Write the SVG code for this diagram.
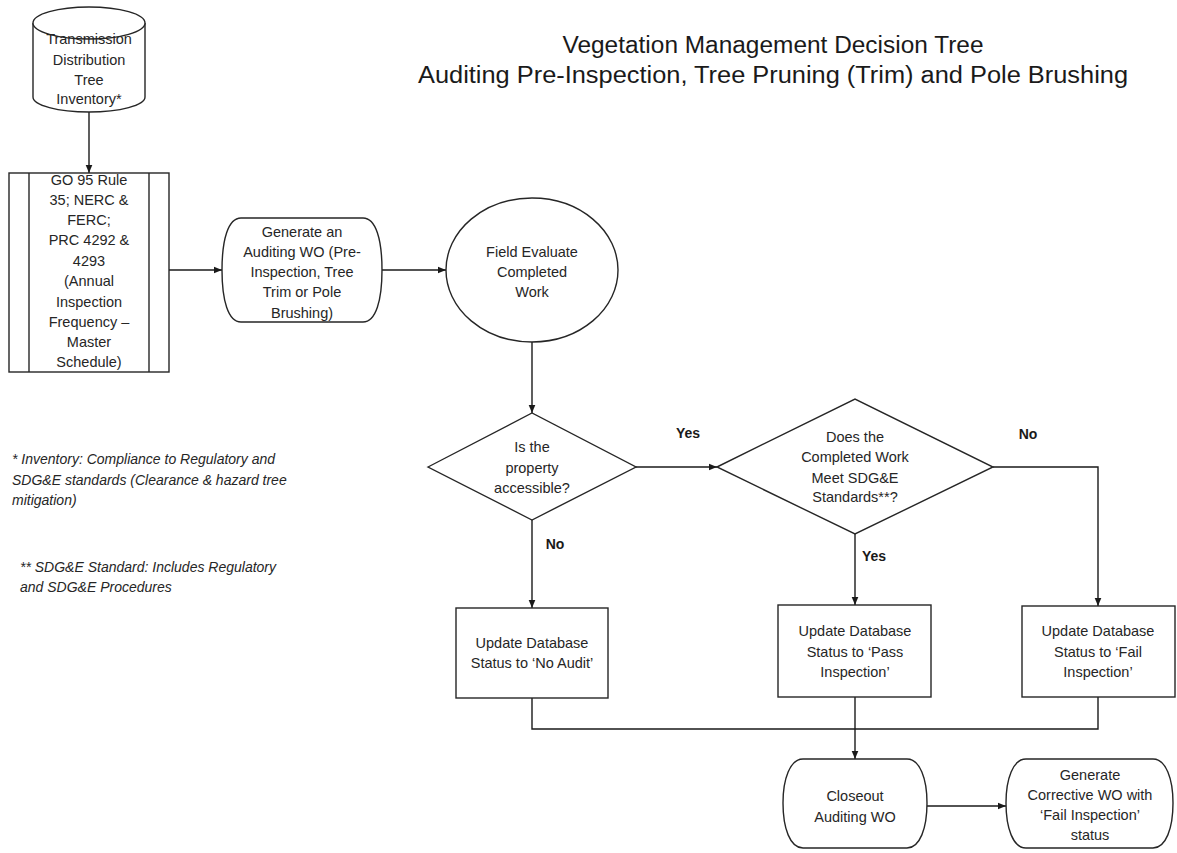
<svg xmlns="http://www.w3.org/2000/svg" width="1177" height="853" viewBox="0 0 1177 853">
<style>
.shape{fill:#fff;stroke:#262626;stroke-width:1.4}
.inner{fill:none;stroke:#262626;stroke-width:1.4}
.t{font-family:"Liberation Sans",Arial,sans-serif;font-size:14.5px;fill:#262626;text-anchor:middle;dominant-baseline:central}
.lbl{font-family:"Liberation Sans",Arial,sans-serif;font-size:14px;font-weight:bold;fill:#1a1a1a;text-anchor:middle;dominant-baseline:central}
.note{font-family:"Liberation Sans",Arial,sans-serif;font-size:14px;font-style:italic;fill:#262626;dominant-baseline:central}
.title{font-family:"Liberation Sans",Arial,sans-serif;font-size:23.5px;fill:#1a1a1a;text-anchor:middle;dominant-baseline:central}
.c{fill:none;stroke:#1a1a1a;stroke-width:1.4}
</style>
<defs>
<marker id="ah" markerWidth="9" markerHeight="8" refX="8.5" refY="4" orient="auto" markerUnits="userSpaceOnUse">
<path d="M0,0.5 L8.5,4 L0,7.5 z" fill="#1a1a1a"/>
</marker>
</defs>
<rect width="1177" height="853" fill="#fff"/>

<g id="title">
<text class="title" x="773" y="45" textLength="421" lengthAdjust="spacingAndGlyphs">Vegetation Management Decision Tree</text>
<text class="title" x="773" y="75" textLength="710" lengthAdjust="spacingAndGlyphs">Auditing Pre-Inspection, Tree Pruning (Trim) and Pole Brushing</text>
</g>

<g id="connectors">
<line class="c" x1="89" y1="112" x2="89" y2="173" marker-end="url(#ah)"/>
<line class="c" x1="169" y1="270" x2="222" y2="270" marker-end="url(#ah)"/>
<line class="c" x1="382" y1="270" x2="446" y2="270" marker-end="url(#ah)"/>
<line class="c" x1="532" y1="342" x2="532" y2="413" marker-end="url(#ah)"/>
<line class="c" x1="636" y1="467" x2="717" y2="467" marker-end="url(#ah)"/>
<line class="c" x1="532" y1="520" x2="532" y2="608" marker-end="url(#ah)"/>
<line class="c" x1="855" y1="534" x2="855" y2="605" marker-end="url(#ah)"/>
<polyline class="c" points="993,467 1098,467 1098,606" marker-end="url(#ah)"/>
<polyline class="c" points="532,698 532,729 1098,729 1098,697"/>
<line class="c" x1="855" y1="697" x2="855" y2="759" marker-end="url(#ah)"/>
<line class="c" x1="927" y1="806" x2="1006" y2="806" marker-end="url(#ah)"/>
<text class="lbl" x="688" y="433">Yes</text>
<text class="lbl" x="555" y="544">No</text>
<text class="lbl" x="874" y="556">Yes</text>
<text class="lbl" x="1028" y="434">No</text>
</g>

<g id="inventory">
<path class="shape" d="M33,23 L33,97 A56,15 0 0 0 145,97 L145,23"/>
<ellipse class="shape" cx="89" cy="23" rx="56" ry="16"/>
<text class="t" x="89" y="39">Transmission</text>
<text class="t" x="89" y="60">Distribution</text>
<text class="t" x="89" y="80">Tree</text>
<text class="t" x="89" y="99">Inventory*</text>
</g>

<g id="regulations">
<rect class="shape" x="9" y="173" width="160" height="199"/>
<line class="inner" x1="29" y1="173" x2="29" y2="372"/>
<line class="inner" x1="149" y1="173" x2="149" y2="372"/>
<text class="t" x="89" y="180">GO 95 Rule</text>
<text class="t" x="89" y="200">35; NERC &amp;</text>
<text class="t" x="89" y="220">FERC;</text>
<text class="t" x="89" y="240">PRC 4292 &amp;</text>
<text class="t" x="89" y="261">4293</text>
<text class="t" x="89" y="281">(Annual</text>
<text class="t" x="89" y="302">Inspection</text>
<text class="t" x="89" y="322">Frequency –</text>
<text class="t" x="89" y="342">Master</text>
<text class="t" x="89" y="362">Schedule)</text>
</g>

<g id="generate-wo">
<path class="shape" d="M241,218 H363 C376,218 382,240 382,270 C382,300 376,322 363,322 H241 C228,322 222,300 222,270 C222,240 228,218 241,218 Z"/>
<text class="t" x="302" y="232">Generate an</text>
<text class="t" x="302" y="252">Auditing WO (Pre-</text>
<text class="t" x="302" y="272">Inspection, Tree</text>
<text class="t" x="302" y="292">Trim or Pole</text>
<text class="t" x="302" y="313">Brushing)</text>
</g>

<g id="field-evaluate">
<ellipse class="shape" cx="532" cy="270" rx="86" ry="72"/>
<text class="t" x="532" y="252">Field Evaluate</text>
<text class="t" x="532" y="272">Completed</text>
<text class="t" x="532" y="292">Work</text>
</g>

<g id="accessible">
<polygon class="shape" points="428,467 532,413 636,467 532,520"/>
<text class="t" x="532" y="447">Is the</text>
<text class="t" x="532" y="468">property</text>
<text class="t" x="532" y="488">accessible?</text>
</g>

<g id="meets-standards">
<polygon class="shape" points="717,467 855,399 993,467 855,534"/>
<text class="t" x="855" y="437">Does the</text>
<text class="t" x="855" y="457">Completed Work</text>
<text class="t" x="855" y="478">Meet SDG&amp;E</text>
<text class="t" x="855" y="497">Standards**?</text>
</g>

<g id="no-audit">
<rect class="shape" x="456" y="608" width="152" height="90"/>
<text class="t" x="532" y="643">Update Database</text>
<text class="t" x="532" y="663">Status to ‘No Audit’</text>
</g>

<g id="pass-inspection">
<rect class="shape" x="778" y="605" width="153" height="92"/>
<text class="t" x="855" y="631">Update Database</text>
<text class="t" x="855" y="652">Status to ‘Pass</text>
<text class="t" x="855" y="672">Inspection’</text>
</g>

<g id="fail-inspection">
<rect class="shape" x="1022" y="606" width="153" height="91"/>
<text class="t" x="1098" y="631">Update Database</text>
<text class="t" x="1098" y="652">Status to ‘Fail</text>
<text class="t" x="1098" y="672">Inspection’</text>
</g>

<g id="closeout">
<path class="shape" d="M803,759 H907 C920,759 927,779 927,803 C927,828 920,848 907,848 H803 C790,848 783,828 783,803 C783,779 790,759 803,759 Z"/>
<text class="t" x="855" y="796">Closeout</text>
<text class="t" x="855" y="817">Auditing WO</text>
</g>

<g id="corrective-wo">
<path class="shape" d="M1026,759 H1153 C1166,759 1173,779 1173,803 C1173,828 1166,848 1153,848 H1026 C1013,848 1006,828 1006,803 C1006,779 1013,759 1026,759 Z"/>
<text class="t" x="1090" y="775">Generate</text>
<text class="t" x="1090" y="795">Corrective WO with</text>
<text class="t" x="1090" y="815">‘Fail Inspection’</text>
<text class="t" x="1090" y="835">status</text>
</g>

<g id="notes">
<text class="note" x="12" y="459">* Inventory: Compliance to Regulatory and</text>
<text class="note" x="12" y="480">SDG&amp;E standards (Clearance &amp; hazard tree</text>
<text class="note" x="12" y="500">mitigation)</text>
<text class="note" x="20" y="567">** SDG&amp;E Standard: Includes Regulatory</text>
<text class="note" x="20" y="587">and SDG&amp;E Procedures</text>
</g>
</svg>
